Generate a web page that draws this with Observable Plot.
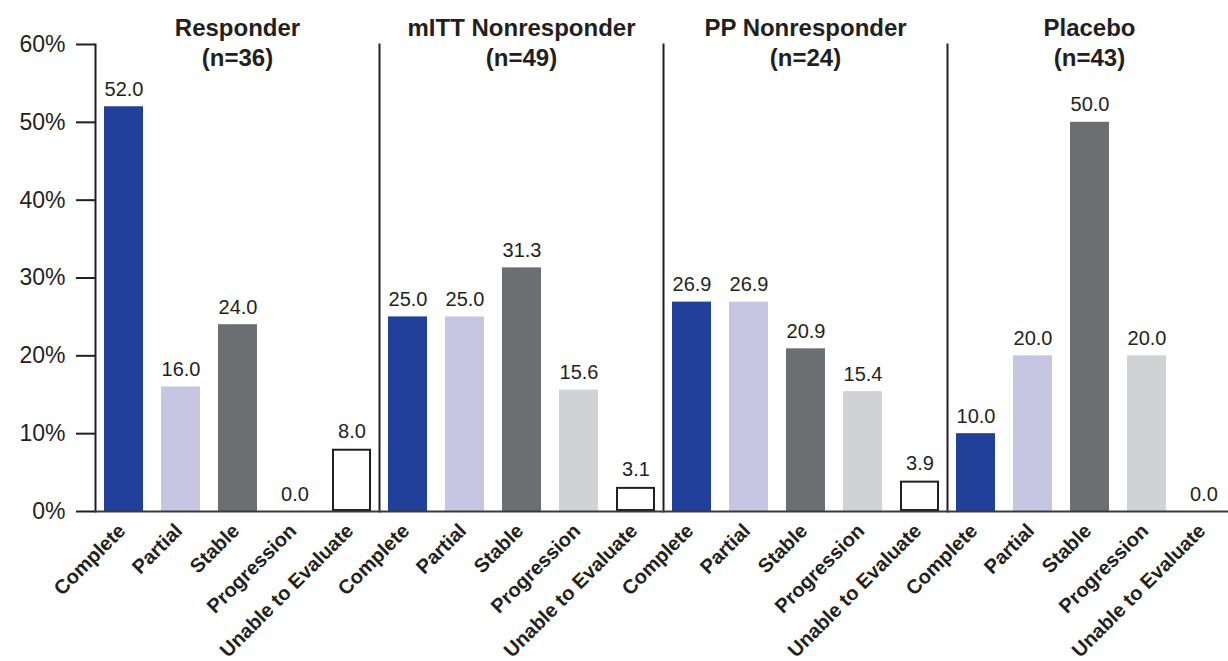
<!DOCTYPE html>
<html>
<head>
<meta charset="utf-8">
<script src="https://cdn.jsdelivr.net/npm/d3@7"></script>
<script src="https://cdn.jsdelivr.net/npm/@observablehq/plot@0.6"></script>
<style>
  html, body { margin: 0; padding: 0; background: #fff; overflow: hidden; }
</style>
</head>
<body>
<div id="chart"></div>
<script>
const groups = ["Responder", "mITT Nonresponder", "PP Nonresponder", "Placebo"];
const groupN = [36, 49, 24, 43];
const categories = ["Complete", "Partial", "Stable", "Progression", "Unable to Evaluate"];
const responder = [52.0, 16.0, 24.0, 0.0, 8.0];
const mittNonresponder = [25.0, 25.0, 31.3, 15.6, 3.1];
const ppNonresponder = [26.9, 26.9, 20.9, 15.4, 3.9];
const placebo = [10.0, 20.0, 50.0, 20.0, 0.0];
const yTicks = [0, 10, 20, 30, 40, 50, 60];
const colors = ["#21409a", "#c6c6e3", "#6d6e72", "#d1d2d4", "#ffffff"];

const series = [responder, mittNonresponder, ppNonresponder, placebo];
const rows = [];
groups.forEach((g, gi) => {
  categories.forEach((c, ci) => {
    rows.push({group: g, cat: c, value: series[gi][ci]});
  });
});
const titles = groups.map((g, i) => ({group: g, label: g + "\n(n=" + groupN[i] + ")"}));

const ink = "#231f20";

const chart = Plot.plot({
  width: 1228,
  height: 661,
  marginLeft: 93,
  marginRight: -4,
  marginTop: 44,
  marginBottom: 150,
  style: {fontFamily: "'Liberation Sans', Arial, Helvetica, sans-serif", color: ink, background: "#fff"},
  fx: {domain: groups, axis: null, padding: 0},
  x: {domain: categories, axis: null, paddingInner: 0.32, paddingOuter: 0.14},
  y: {domain: [0, 60], axis: null},
  color: {domain: categories, range: colors},
  marks: [
    Plot.barY(rows.filter(d => d.cat !== "Unable to Evaluate" && d.value > 0),
      {fx: "group", x: "cat", y: "value", fill: "cat"}),
    Plot.barY(rows.filter(d => d.cat === "Unable to Evaluate" && d.value > 0),
      {fx: "group", x: "cat", y: "value", fill: "#ffffff", stroke: ink, strokeWidth: 2, inset: 1}),
    Plot.frame({anchor: "left", stroke: ink, strokeWidth: 2}),
    Plot.ruleY([0], {stroke: "#3a3a3a", strokeWidth: 2}),
    Plot.axisY(yTicks, {
      tickSize: 19, tickPadding: 11, strokeWidth: 2, stroke: ink,
      tickFormat: d => d + "%", fontSize: 23, label: null
    }),
    Plot.text(rows, {
      fx: "group", x: "cat", y: "value", text: d => d.value.toFixed(1),
      lineAnchor: "bottom", dy: -11, fontSize: 20, fill: ink
    }),
    Plot.text(rows, {
      fx: "group", x: "cat", text: "cat", frameAnchor: "bottom",
      rotate: -45, textAnchor: "end", lineAnchor: "middle",
      dy: 16, dx: -2, fontSize: 20, fontWeight: "bold", fill: ink
    }),
    Plot.text(titles, {
      fx: "group", text: "label", frameAnchor: "top", lineAnchor: "bottom",
      dy: 21, fontSize: 24, fontWeight: "bold", lineHeight: 1.25, fill: ink
    })
  ]
});
document.getElementById("chart").appendChild(chart);
</script>
</body>
</html>
